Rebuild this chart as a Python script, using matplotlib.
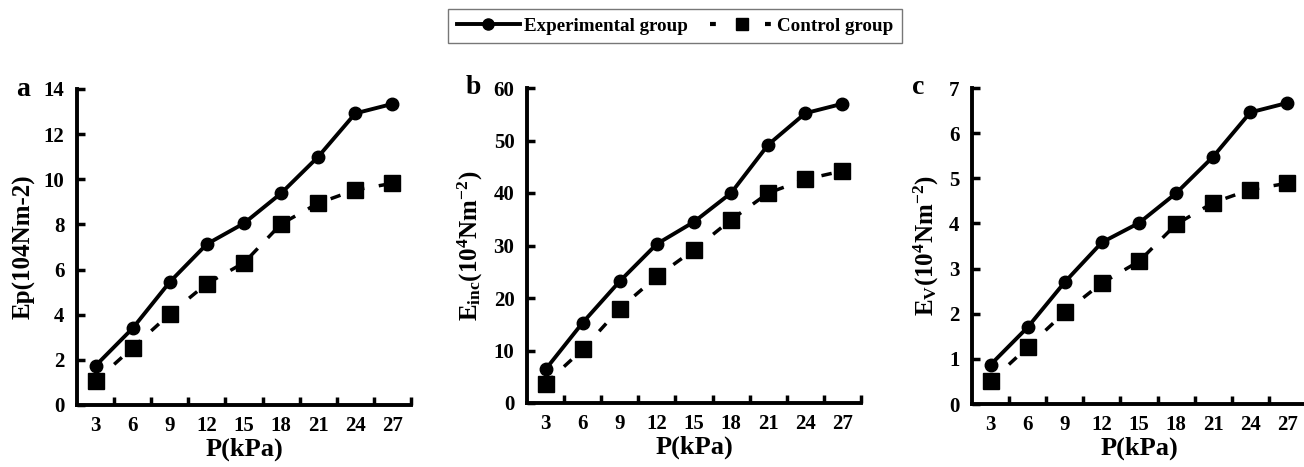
import matplotlib
matplotlib.use("Agg")
import matplotlib.pyplot as plt
from matplotlib.lines import Line2D
import numpy as np

pressure = [3, 6, 9, 12, 15, 18, 21, 24, 27]

ep_exp = [1.74, 3.40, 5.45, 7.13, 8.05, 9.38, 11.0, 12.92, 13.34]
ep_ctrl = [1.06, 2.54, 4.03, 5.38, 6.30, 8.02, 8.94, 9.53, 9.82]

einc_exp = [6.4, 15.3, 23.2, 30.3, 34.5, 40.0, 49.2, 55.2, 57.0]
einc_ctrl = [3.7, 10.2, 18.0, 24.1, 29.2, 34.9, 40.0, 42.6, 44.2]

ev_exp = [0.87, 1.70, 2.70, 3.58, 4.01, 4.67, 5.48, 6.46, 6.67]
ev_ctrl = [0.50, 1.26, 2.03, 2.68, 3.16, 3.98, 4.46, 4.75, 4.89]

panel_letters = ["a", "b", "c"]
ylabels = ["Ep(104Nm-2)",
           r"E$_{\mathregular{inc}}$(10$^{\mathregular{4}}$Nm$^{\mathregular{-2}}$)",
           r"E$_{\mathregular{V}}$(10$^{\mathregular{4}}$Nm$^{\mathregular{-2}}$)"]
ymax = [14, 60, 7]
ystep = [2, 10, 1]
xlabel = "P(kPa)"
legend_labels = ["Experimental group", "Control group"]

plt.rcParams['font.family'] = ['Liberation Serif', 'DejaVu Serif']
plt.rcParams['font.weight'] = 'bold'
plt.rcParams['mathtext.fontset'] = 'custom'
plt.rcParams['mathtext.rm'] = 'Liberation Serif:bold'
plt.rcParams['mathtext.it'] = 'Liberation Serif:bold'
plt.rcParams['mathtext.bf'] = 'Liberation Serif:bold'

W, H = 1304, 467
fig = plt.figure(figsize=(W / 100, H / 100), dpi=100)

lefts = [77, 527, 972]
tops = [89, 88, 88]
bottoms = [405, 403, 404]
width = 334

exp_sets = [ep_exp, einc_exp, ev_exp]
ctrl_sets = [ep_ctrl, einc_ctrl, ev_ctrl]

x = np.arange(1, len(pressure) + 1)

for i in range(3):
    ax = fig.add_axes([lefts[i] / W, 1 - bottoms[i] / H, width / W,
                       (bottoms[i] - tops[i]) / H])
    ax.plot(x, exp_sets[i], color='black', lw=2.8, marker='o', ms=9,
            solid_joinstyle='round')
    ax.plot(x, ctrl_sets[i], color='black', lw=2.5, ls=(0, (3, 4.2)),
            marker='s', ms=11)
    ax.set_xlim(0.5, 9.5)
    ax.set_ylim(0, ymax[i])
    ax.set_yticks(np.arange(0, ymax[i] + 0.001, ystep[i]))
    ax.set_xticks(x)
    ax.set_xticklabels([str(p) for p in pressure])
    ax.set_xticks(np.arange(1.5, 9.6, 1), minor=True)
    for s in ['top', 'right']:
        ax.spines[s].set_visible(False)
    for s in ['left', 'bottom']:
        ax.spines[s].set_linewidth(2.8)
    ax.tick_params(axis='x', which='major', length=0, pad=8, labelsize=15)
    ax.tick_params(axis='x', which='minor', direction='in', length=6, width=2.5)
    ax.tick_params(axis='y', which='major', direction='in', length=6, width=2.5,
                   pad=9, labelsize=15)
    ax.set_xlabel(xlabel, fontsize=19, fontweight='bold', labelpad=1)
    ax.set_ylabel(ylabels[i], fontsize=18, fontweight='bold', labelpad=6)
    ax.text(-0.16, 1.0, panel_letters[i], transform=ax.transAxes,
            fontsize=20, fontweight='bold', ha='center', va='center')

handles = [Line2D([], [], color='black', lw=2.8, marker='o', ms=8),
           Line2D([], [], color='black', lw=3, ls=(0, (1.4, 11.8)), marker='s', ms=9)]
leg = fig.legend(handles, legend_labels, loc='center',
                 bbox_to_anchor=(675 / W, 1 - 26 / H), ncol=2,
                 frameon=True, fancybox=False, edgecolor='#555555',
                 prop={'size': 13.7, 'weight': 'bold'}, handlelength=3.3,
                 columnspacing=1.2, borderpad=0.45, handletextpad=0.2)
leg.get_frame().set_linewidth(1.0)

fig.savefig("out.png", dpi=100)
